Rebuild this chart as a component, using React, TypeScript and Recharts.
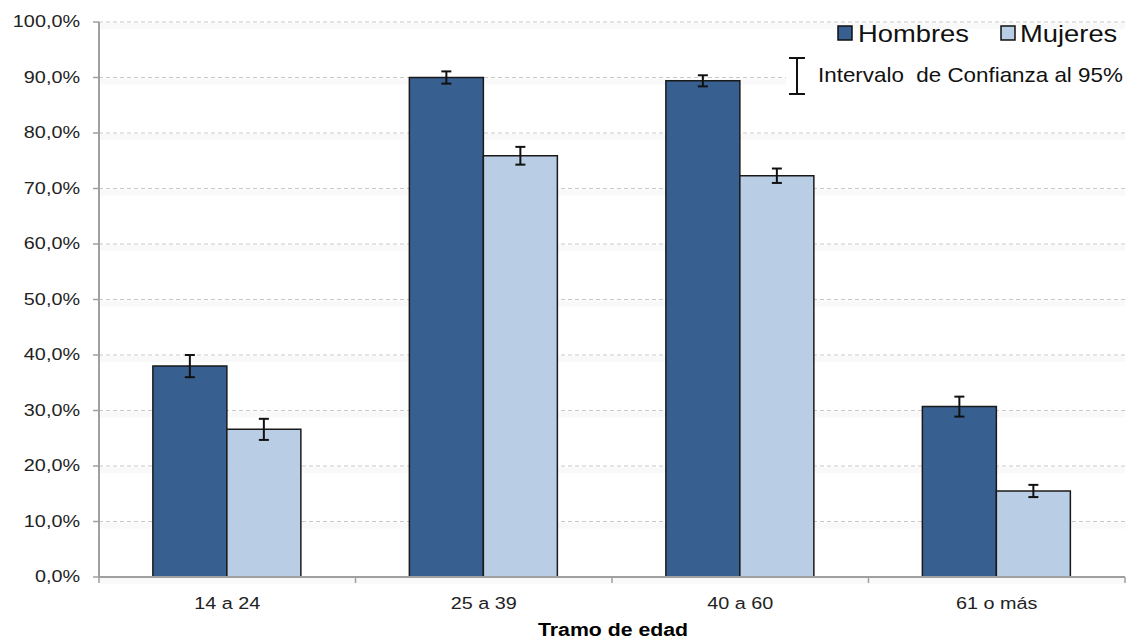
import React from 'react';
import { BarChart, Bar, XAxis, YAxis, CartesianGrid, ErrorBar } from 'recharts';

const categories = ['14 a 24', '25 a 39', '40 a 60', '61 o más'];
const hombres = [38.0, 90.0, 89.4, 30.7];
const hombresErr = [2.0, 1.1, 1.0, 1.8];
const mujeres = [26.6, 75.9, 72.3, 15.5];
const mujeresErr = [1.9, 1.6, 1.3, 1.1];
const yTicks = [0, 10, 20, 30, 40, 50, 60, 70, 80, 90, 100];
const seriesNames = ['Hombres', 'Mujeres'];
const ciLabel = 'Intervalo  de Confianza al 95%';
const xAxisTitle = 'Tramo de edad';

const data = categories.map((c, i) => ({
  cat: c,
  hombres: hombres[i],
  hombresErr: hombresErr[i],
  mujeres: mujeres[i],
  mujeresErr: mujeresErr[i],
}));

const W = 1141;
const H = 641;
const FONT = '"Liberation Sans", Arial, sans-serif';
const SX = 1.2;
const C_H = '#375F90';
const C_M = '#B9CDE5';
const AXIS = '#A0A0A0';
const PLOT_BOTTOM = 577;

const fmt = (v: number) => `${v.toFixed(1).replace('.', ',')}%`;

const YTick = (props: any) => {
  const { x, y, payload } = props;
  return (
    <text
      transform={`translate(${x - 1},${y}) scale(${SX},1)`}
      textAnchor="end"
      dominantBaseline="central"
      fontFamily={FONT}
      fontSize={16.5}
      fill="#222"
    >
      {fmt(payload.value)}
    </text>
  );
};

const XTick = (props: any) => {
  const { x, payload, index, visibleTicksCount } = props;
  const off = payload && typeof payload.offset === 'number' && payload.offset > 0 ? payload.offset : 128;
  const last = index === (visibleTicksCount ?? 4) - 1;
  return (
    <g>
      <line x1={x - off} x2={x - off} y1={PLOT_BOTTOM} y2={PLOT_BOTTOM + 6} stroke={AXIS} strokeWidth={1.5} />
      {last && <line x1={x + off} x2={x + off} y1={PLOT_BOTTOM} y2={PLOT_BOTTOM + 6} stroke={AXIS} strokeWidth={1.5} />}
      <text
        transform={`translate(${x},${PLOT_BOTTOM + 32}) scale(${SX},1)`}
        textAnchor="middle"
        fontFamily={FONT}
        fontSize={16.5}
        fill="#222"
      >
        {payload.value}
      </text>
    </g>
  );
};

const GridLine = (props: any) => {
  const { x1, x2, y1, y2 } = props;
  return (
    <g>
      <rect x={x1} y={y1 + 1} width={x2 - x1} height={6} fill="#000" fillOpacity={0.025} />
      <line x1={x1} x2={x2} y1={y1} y2={y2} stroke="#C8C8C8" strokeWidth={1} strokeDasharray="4 3" />
    </g>
  );
};

export default function App() {
  return (
    <div style={{ position: 'absolute', left: 0, top: 0, width: W, height: H, background: '#fff' }}>
      <BarChart
        width={W}
        height={H}
        data={data}
        margin={{ top: 22, right: 16, left: 0, bottom: 24 }}
        barCategoryGap="21%"
        barGap={0}
      >
        <CartesianGrid vertical={false} horizontal={GridLine as any} />
        <XAxis
          dataKey="cat"
          height={40}
          tickLine={false}
          axisLine={{ stroke: AXIS, strokeWidth: 2 }}
          tick={<XTick />}
          interval={0}
        />
        <YAxis
          width={99}
          domain={[0, 100]}
          ticks={yTicks}
          interval={0}
          tickSize={6}
          tickMargin={12}
          tickLine={{ stroke: AXIS, strokeWidth: 1.5 }}
          axisLine={{ stroke: AXIS, strokeWidth: 2 }}
          tick={<YTick />}
        />
        <Bar dataKey="hombres" fill={C_H} stroke="#1A1A1A" strokeWidth={1.5} isAnimationActive={false}>
          <ErrorBar dataKey="hombresErr" width={5} stroke="#111" strokeWidth={2} direction="y" />
        </Bar>
        <Bar dataKey="mujeres" fill={C_M} stroke="#1A1A1A" strokeWidth={1.5} isAnimationActive={false}>
          <ErrorBar dataKey="mujeresErr" width={5} stroke="#111" strokeWidth={2} direction="y" />
        </Bar>
      </BarChart>
      <svg width={W} height={H} style={{ position: 'absolute', left: 0, top: 0, pointerEvents: 'none' }}>
        <rect x={838} y={26} width={14} height={14} fill={C_H} stroke="#111" strokeWidth={1.5} />
        <text transform={`translate(858,42) scale(1.19,1)`} fontFamily={FONT} fontSize={23} fill="#111">
          {seriesNames[0]}
        </text>
        <rect x={1001} y={26} width={14} height={14} fill={C_M} stroke="#111" strokeWidth={1.5} />
        <text transform={`translate(1020,42) scale(1.19,1)`} fontFamily={FONT} fontSize={23} fill="#111">
          {seriesNames[1]}
        </text>
        <rect x={786} y={54} width={355} height={44} fill="#fff" />
        <line x1={797} x2={797} y1={58} y2={94} stroke="#111" strokeWidth={2} />
        <line x1={789} x2={805} y1={58} y2={58} stroke="#111" strokeWidth={2} />
        <line x1={789} x2={805} y1={94} y2={94} stroke="#111" strokeWidth={2} />
        <text
          transform={`translate(818,82) scale(1.12,1)`}
          fontFamily={FONT}
          fontSize={20}
          fill="#111"
          style={{ whiteSpace: 'pre' }}
          xmlSpace="preserve"
        >
          {ciLabel}
        </text>
        <text
          transform={`translate(613,636) scale(1.15,1)`}
          textAnchor="middle"
          fontFamily={FONT}
          fontSize={18.5}
          fontWeight="bold"
          fill="#000"
        >
          {xAxisTitle}
        </text>
      </svg>
    </div>
  );
}
